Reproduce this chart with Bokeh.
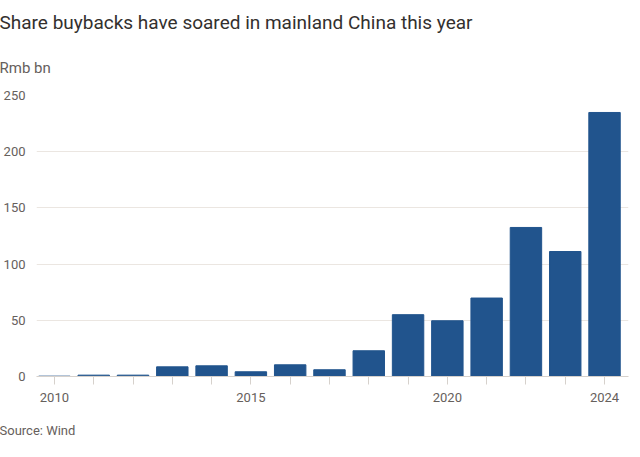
from bokeh.plotting import figure
from bokeh.models import Title, FixedTicker
from bokeh.embed import file_html
from bokeh.resources import INLINE

# ---- data ----
years = list(range(2010, 2025))
buybacks = [0.3, 1.2, 1.2, 8.6, 9.5, 4.2, 10.4, 6.0, 22.9, 55.0, 49.6, 69.8, 132.6, 111.2, 234.9]
y_ticks = [0, 50, 100, 150, 200, 250]
x_label_years = [2010, 2015, 2020, 2024]

title_text = "Share buybacks have soared in mainland China this year"
subtitle_text = "Rmb bn"
source_text = "Source: Wind"

FONT = "Roboto"
DARK = "#33302e"
GREY = "#66605c"
BAR = "#21548d"

W, H = 640, 457
FL = 33  # frame left
p = figure(width=W, height=H, output_backend="svg", toolbar_location=None,
           x_range=(2009.544, 2024.61), y_range=(0, 250),
           min_border_left=FL, min_border_right=12, min_border_top=0, min_border_bottom=81)
p.outline_line_color = None
p.background_fill_color = "white"
p.border_fill_color = "white"

p.vbar(x=years, top=buybacks, width=0.8, color=BAR)

# grid
p.xgrid.grid_line_color = None
p.ygrid.ticker = FixedTicker(ticks=y_ticks)
p.ygrid.grid_line_color = "#ebe6e1"
p.ygrid.grid_line_width = 1

# y axis
p.yaxis.ticker = FixedTicker(ticks=y_ticks)
p.yaxis.axis_line_color = None
p.yaxis.major_tick_line_color = None
p.yaxis.minor_tick_line_color = None
p.yaxis.major_label_text_font = FONT
p.yaxis.major_label_text_font_size = "13px"
p.yaxis.major_label_text_color = GREY
p.yaxis.major_label_standoff = 5

# x axis
p.xaxis.ticker = FixedTicker(ticks=years)
p.xaxis.major_label_overrides = {y: ("" if y not in x_label_years else str(y)) for y in years}
p.xaxis.axis_line_color = "#d6d1cc"
p.xaxis.major_tick_line_color = "#d6d1cc"
p.xaxis.major_tick_out = 8
p.xaxis.major_tick_in = 0
p.xaxis.minor_tick_line_color = None
p.xaxis.major_label_text_font = FONT
p.xaxis.major_label_text_font_size = "13px"
p.xaxis.major_label_text_color = GREY
p.xaxis.major_label_standoff = 8

# texts: main title on top, subtitle below it
p.title.text = title_text
p.title.text_font = FONT
p.title.text_font_size = "19px"
p.title.text_font_style = "normal"
p.title.text_color = DARK
p.title.align = "left"
p.title.offset = -FL - 4
p.title.standoff = 17

p.add_layout(Title(text=subtitle_text, text_font=FONT, text_font_size="15px",
                   text_font_style="normal", text_color=GREY, align="left",
                   vertical_align="top", offset=-FL - 4, standoff=33), "above")

p.add_layout(Title(text=source_text, text_font=FONT, text_font_size="13px",
                   text_font_style="normal", text_color=GREY, align="left",
                   offset=-FL - 4, standoff=33), "below")

open("out.html", "w").write(file_html(p, INLINE))
